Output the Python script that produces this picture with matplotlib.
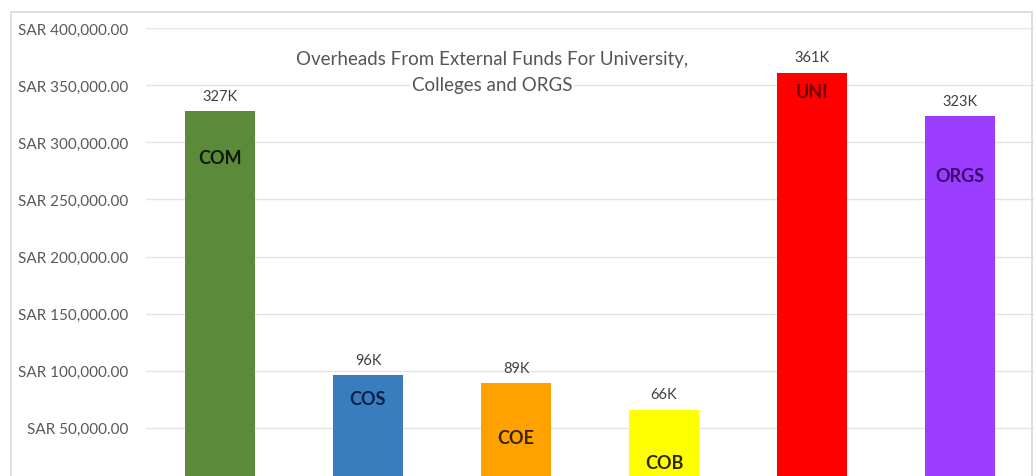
import matplotlib
matplotlib.use("Agg")
import matplotlib.pyplot as plt
from matplotlib.patches import Rectangle
from matplotlib.ticker import FuncFormatter

# data
categories = ["COM", "COS", "COE", "COB", "UNI", "ORGS"]
values = [327000, 96000, 89000, 66000, 361000, 323000]
value_labels = ["327K", "96K", "89K", "66K", "361K", "323K"]
bar_colors = ["#5B8A3B", "#3A7DBF", "#FFA200", "#FFFF00", "#FF0000", "#9A3DFF"]
name_colors = ["#0F1A08", "#0B1F45", "#3A2400", "#2A2A00", "#6A0000", "#3B0A6A"]
# where the in-bar names sit (data units, estimated)
name_y = [287000, 76000, 42000, 20000, 344000, 271000]
title_lines = ["Overheads From External Funds For University,", "Colleges and ORGS"]

plt.rcParams["font.family"] = ["Lato", "DejaVu Sans"]

fig = plt.figure(figsize=(10.36, 4.77), dpi=100)
fig.patch.set_facecolor("white")

# chart area border (cropped at the bottom in the reference)
fig.add_artist(Rectangle((11 / 1036, -0.1), (1032 - 11) / 1036, (477 - 13) / 477 + 0.1,
                         transform=fig.transFigure, fill=False,
                         edgecolor="#D9D9D9", linewidth=1.2))

ax = fig.add_axes([146 / 1036, -9 / 477, (1034 - 146) / 1036, (486 - 29) / 477])
x = range(len(categories))
ax.bar(x, values, width=0.47, color=bar_colors, zorder=2)

ax.set_ylim(0, 400000)
ax.set_xlim(-0.5, len(categories) - 0.5)
ax.set_yticks(range(0, 400001, 50000))
ax.yaxis.set_major_formatter(FuncFormatter(lambda v, p: f"SAR {v:,.2f}"))
ax.tick_params(axis="y", length=0, pad=13, labelsize=11, labelcolor="#595959")
ax.set_xticks([])
ax.grid(axis="y", color="#E4E4E4", linewidth=1, zorder=0)
for s in ax.spines.values():
    s.set_visible(False)

for i, v in enumerate(values):
    ax.annotate(value_labels[i], (i, v), xytext=(0, 6), textcoords="offset points",
                ha="center", va="bottom", fontsize=10.5, color="#404040")
    ax.text(i, name_y[i], categories[i], ha="center", va="center",
            fontsize=13, fontweight="bold", color=name_colors[i], zorder=3)

for k, line in enumerate(title_lines):
    fig.text(492 / 1036, 1 - (60 + 26 * k) / 477, line, ha="center", va="center",
             fontsize=13.5, color="#555555",
             bbox=dict(facecolor="white", edgecolor="none", pad=1))

fig.savefig("out.png", dpi=100)
